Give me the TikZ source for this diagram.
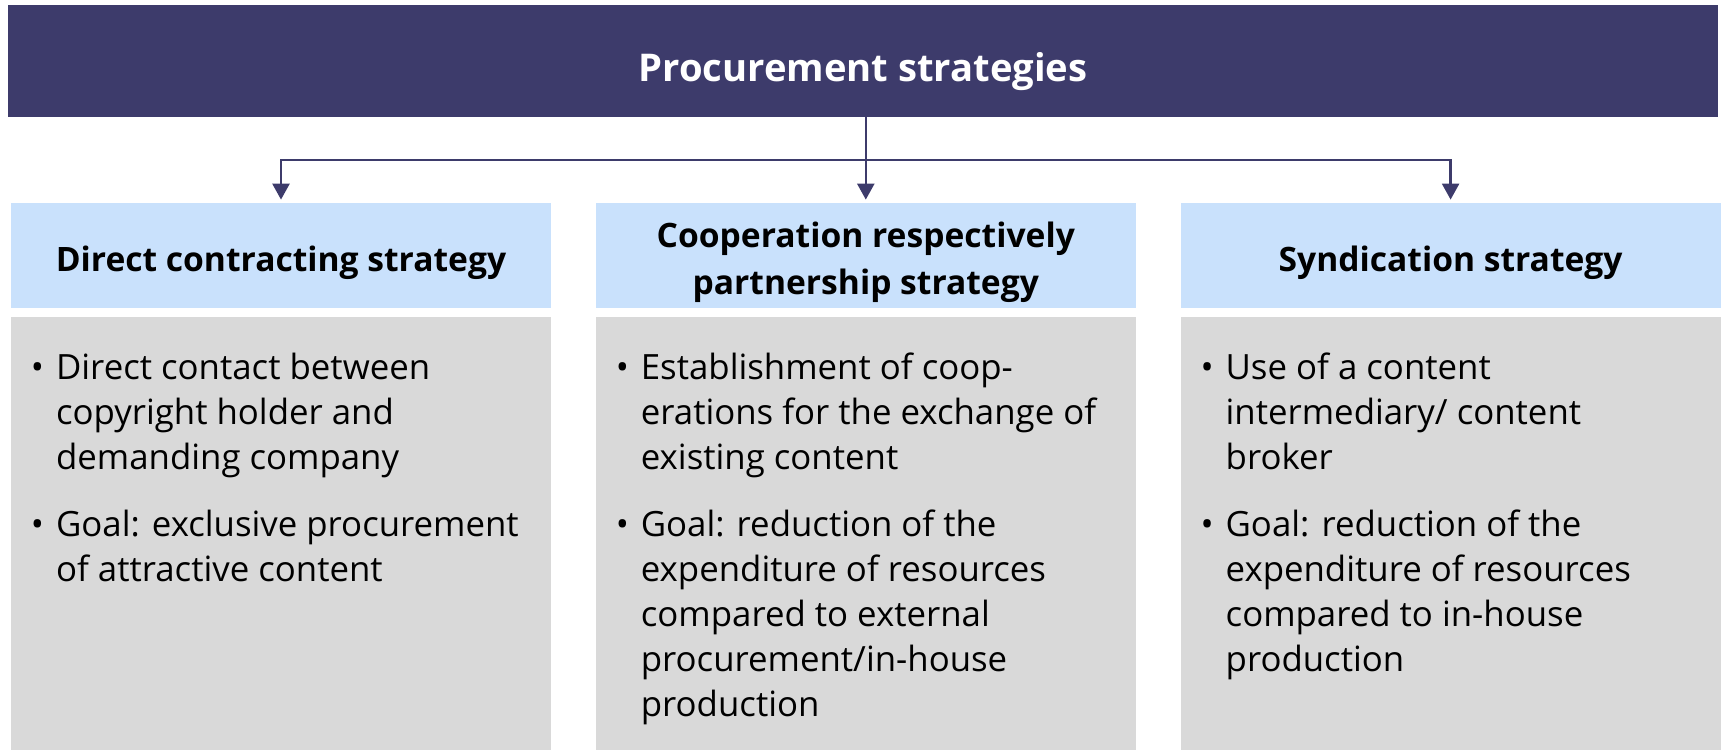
\documentclass[tikz,border=0pt]{standalone}
\usepackage{fontspec}
\setmainfont{Open Sans}
\usetikzlibrary{positioning, arrows.meta}

\definecolor{navy}{HTML}{3D3B6B}
\definecolor{headblue}{HTML}{C9E1FC}
\definecolor{bodygray}{HTML}{D9D9D9}

\newcommand{\itm}{\textbullet\hspace{6pt}}
\newcommand{\ind}{\phantom{\textbullet}\hspace{6pt}}

\begin{document}
\begin{tikzpicture}[
    x=0.5pt, y=-0.5pt,
    banner/.style={fill=navy, minimum width=855pt, minimum height=56pt, inner sep=0pt, text=white, text height=20pt, text depth=0pt, font=\fontsize{19.1}{23}\selectfont\bfseries},
    head/.style={fill=headblue, minimum width=270pt, minimum height=52.5pt, inner sep=0pt},
    hdtext/.style={inner sep=0pt, align=center, font=\fontsize{16.8}{23.5}\selectfont\bfseries},
    body/.style={fill=bodygray, minimum width=270pt, minimum height=217pt, inner sep=0pt},
    txt/.style={inner sep=0pt, align=left, font=\fontsize{17.4}{22.5}\selectfont},
    conn/.style={draw=navy, line width=1.3pt, shorten >=1.5pt, -{Triangle[length=8pt, width=8.5pt]}},
  ]
    \useasboundingbox (0,0) rectangle (1721,750);

    % Title
    \node[banner] (title) at (863,61) {Procurement strategies};

    % Strategy headers
    \node[head] (hd1) at (281,255.5) {};
    \node[head, right=22pt of hd1] (hd2) {};
    \node[head, right=22pt of hd2] (hd3) {};
    \node[hdtext] (hl1) at ([yshift=-3.5pt]hd1.center) {Direct contracting strategy};
    \node[hdtext] (hl2) at ([yshift=-3.5pt]hd2.center) {Cooperation respectively\\partnership strategy};
    \node[hdtext] (hl3) at ([yshift=-3.5pt]hd3.center) {Syndication strategy};

    % Bodies
    \node[body, below=4pt of hd1] (bd1) {};
    \node[body, below=4pt of hd2] (bd2) {};
    \node[body, below=4pt of hd3] (bd3) {};

    \node[txt, below right=18pt and 10pt of bd1.north west] (tx1) {%
      \itm Direct contact between\\\ind copyright holder and\\\ind demanding company\\[11pt]
      \itm Goal: exclusive procurement\\\ind of attractive content};
    \node[txt, below right=18pt and 10pt of bd2.north west] (tx2) {%
      \itm Establishment of coop-\\\ind erations for the exchange of\\\ind existing content\\[11pt]
      \itm Goal: reduction of the\\\ind expenditure of resources\\\ind compared to external\\\ind procurement/in-house\\\ind production};
    \node[txt, below right=18pt and 10pt of bd3.north west] (tx3) {%
      \itm Use of a content\\\ind intermediary/ content\\\ind broker\\[11pt]
      \itm Goal: reduction of the\\\ind expenditure of resources\\\ind compared to in-house\\\ind production};

    % Arrows
    \coordinate (split) at (865,160);
    \draw[conn] (title.south -| hd2.north) -- (hd2.north);
    \draw[conn] (split) -| (hd1.north);
    \draw[conn] (split) -| (hd3.north);
\end{tikzpicture}
\end{document}
